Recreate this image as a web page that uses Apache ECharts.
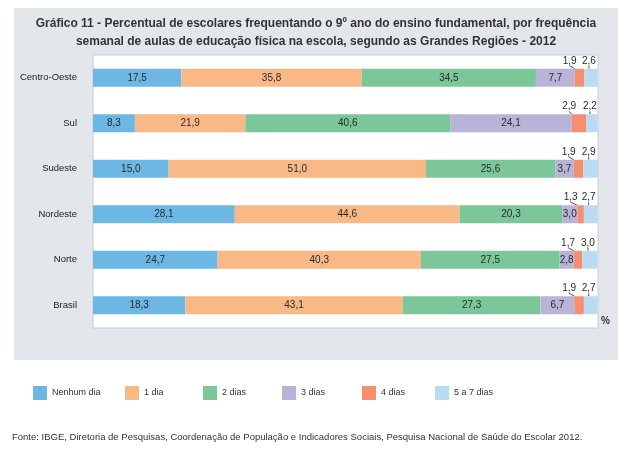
<!DOCTYPE html>
<html><head><meta charset="utf-8">
<script src="https://cdn.jsdelivr.net/npm/echarts@6/dist/echarts.min.js"></script>
<style>html,body{margin:0;padding:0;background:#fff}#c{width:632px;height:460px}</style>
</head><body><div id="c"></div>
<script>
const categories = ['Centro-Oeste','Sul','Sudeste','Nordeste','Norte','Brasil'];
const seriesNames = ['Nenhum dia','1 dia','2 dias','3 dias','4 dias','5 a 7 dias'];
const nenhumDia = [17.5, 8.3, 15.0, 28.1, 24.7, 18.3];
const umDia = [35.8, 21.9, 51.0, 44.6, 40.3, 43.1];
const doisDias = [34.5, 40.6, 25.6, 20.3, 27.5, 27.3];
const tresDias = [7.7, 24.1, 3.7, 3.0, 2.8, 6.7];
const quatroDias = [1.9, 2.9, 1.9, 1.3, 1.7, 1.9];
const cincoASeteDias = [2.6, 2.2, 2.9, 2.7, 3.0, 2.7];
const values = [nenhumDia, umDia, doisDias, tresDias, quatroDias, cincoASeteDias];
const colors = ['#6cb7e4','#f9b987','#7cc79a','#b8b4d8','#f48f6f','#badcf3'];
const FONT = '"Liberation Sans", Arial, sans-serif';
const fmt = p => p.value.toFixed(1).replace('.', ',');

const chart = echarts.init(document.getElementById('c'), null, {renderer:'canvas'});
const legendLefts = [33, 125, 203, 282, 362, 435];

const series = values.map((vals, i) => {
  const s = {
    name: seriesNames[i], type: 'bar', stack: 'total', data: vals,
    barWidth: 18, itemStyle: {color: colors[i]},
    label: {show: true, position: 'inside', formatter: fmt, color: '#2a2a2a', fontSize: 10, fontFamily: FONT},
    emphasis: {disabled: true}
  };
  if (i >= 4) {
    s.label = {show: true, position: 'top', distance: 1, formatter: fmt, color: '#2a2a2a', fontSize: 10, fontFamily: FONT};
    s.labelLayout = {dx: i === 4 ? -10 : -2, dy: -2};
    s.labelLine = {show: true, lineStyle: {color: '#555', width: 1}, length2: 0};
  }
  return s;
});

chart.setOption({
  animation: false,
  backgroundColor: '#fff',
  graphic: [
    {type: 'rect', z: -10, silent: true, shape: {x: 14, y: 8, width: 604, height: 352}, style: {fill: '#e3e7eb'}},
    {type: 'text', left: 601, top: 316, style: {text: '%', fontSize: 10, fontFamily: FONT, fill: '#333', fontWeight: 'bold'}},
    {type: 'text', left: 12, top: 432, style: {text: 'Fonte: IBGE, Diretoria de Pesquisas, Coordenação de População e Indicadores Sociais, Pesquisa Nacional de Saúde do Escolar 2012.', fontSize: 9.5, fontFamily: FONT, fill: '#333'}}
  ],
  title: {
    text: 'Gráfico 11 - Percentual de escolares frequentando o 9º ano do ensino fundamental, por frequência\nsemanal de aulas de educação física na escola, segundo as Grandes Regiões - 2012',
    left: 'center', top: 10,
    textStyle: {fontSize: 12, fontWeight: 'bold', fontFamily: FONT, color: '#333', lineHeight: 18}
  },
  legend: seriesNames.map((n, i) => ({
    data: [n], left: legendLefts[i], top: 386, padding: 0, itemWidth: 14, itemHeight: 14, itemGap: 0,
    textStyle: {fontSize: 9, fontFamily: FONT, color: '#333'},
    selectedMode: false, icon: 'rect'
  })),
  grid: {left: 93, top: 55, width: 505, height: 273, show: true, backgroundColor: '#fff', borderColor: '#c8ccd0', borderWidth: 1},
  xAxis: {type: 'value', min: 0, max: 100.1, show: false},
  yAxis: {
    type: 'category', data: categories, inverse: true,
    axisLine: {show: false}, axisTick: {show: false},
    axisLabel: {color: '#222', fontSize: 9.5, fontFamily: FONT, margin: 16}
  },
  series: series
});
</script></body></html>
